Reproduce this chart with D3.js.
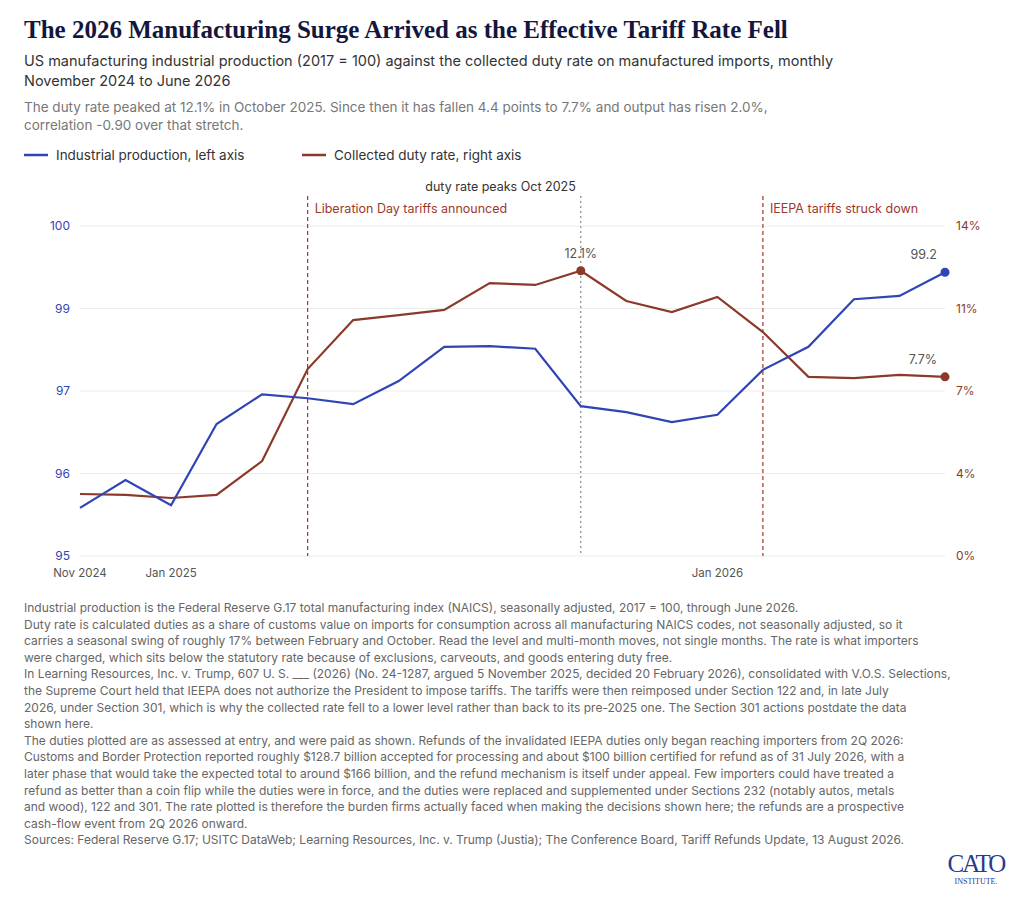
<!DOCTYPE html>
<html lang="en">
<head>
<meta charset="utf-8">
<title>Manufacturing surge and duty rate</title>
<script src="https://cdn.jsdelivr.net/npm/d3@7"></script>
<style>
  body { margin: 0; background: #fff; }
  text { font-family: Inter, "Noto Sans", sans-serif; }
</style>
</head>
<body>
<script>
// month labels, Nov 2024 .. Jun 2026
var months = ["Nov 2024","Dec 2024","Jan 2025","Feb 2025","Mar 2025","Apr 2025","May 2025","Jun 2025",
  "Jul 2025","Aug 2025","Sep 2025","Oct 2025","Nov 2025","Dec 2025","Jan 2026","Feb 2026",
  "Mar 2026","Apr 2026","May 2026","Jun 2026"];
var production = [95.73, 96.15, 95.77, 97.0, 97.45, 97.39, 97.30, 97.65, 98.17, 98.18, 98.14,
  97.27, 97.18, 97.03, 97.14, 97.82, 98.17, 98.89, 98.94, 99.3];
var dutyRate = [2.63, 2.59, 2.46, 2.59, 4.03, 7.93, 10.01, 10.22, 10.44, 11.58, 11.5, 12.1,
  10.82, 10.35, 10.99, 9.5, 7.6, 7.55, 7.68, 7.6];
var xTickLabels = [[0, "Nov 2024"], [2, "Jan 2025"], [14, "Jan 2026"]];
var leftTicks = [95, 96.25, 97.5, 98.75, 100];
var leftTickLabels = ["95", "96", "97", "99", "100"];
var rightTicks = [0, 3.5, 7, 10.5, 14];
var rightTickLabels = ["0%", "4%", "7%", "11%", "14%"];
var events = [
  {m: 5, label: "Liberation Day tariffs announced", color: "#a0392b", dash: "4,3", side: "right", y: 213},
  {m: 11, label: "duty rate peaks Oct 2025", color: "#888", dash: "2,3", side: "left", y: 191},
  {m: 15, label: "IEEPA tariffs struck down", color: "#a0392b", dash: "4,3", side: "right", y: 213}
];
var notes = [
  "Industrial production is the Federal Reserve G.17 total manufacturing index (NAICS), seasonally adjusted, 2017 = 100, through June 2026.",
  "Duty rate is calculated duties as a share of customs value on imports for consumption across all manufacturing NAICS codes, not seasonally adjusted, so it",
  "carries a seasonal swing of roughly 17% between February and October. Read the level and multi-month moves, not single months. The rate is what importers",
  "were charged, which sits below the statutory rate because of exclusions, carveouts, and goods entering duty free.",
  "In Learning Resources, Inc. v. Trump, 607 U. S. ___ (2026) (No. 24-1287, argued 5 November 2025, decided 20 February 2026), consolidated with V.O.S. Selections,",
  "the Supreme Court held that IEEPA does not authorize the President to impose tariffs. The tariffs were then reimposed under Section 122 and, in late July",
  "2026, under Section 301, which is why the collected rate fell to a lower level rather than back to its pre-2025 one. The Section 301 actions postdate the data",
  "shown here.",
  "The duties plotted are as assessed at entry, and were paid as shown. Refunds of the invalidated IEEPA duties only began reaching importers from 2Q 2026:",
  "Customs and Border Protection reported roughly $128.7 billion accepted for processing and about $100 billion certified for refund as of 31 July 2026, with a",
  "later phase that would take the expected total to around $166 billion, and the refund mechanism is itself under appeal. Few importers could have treated a",
  "refund as better than a coin flip while the duties were in force, and the duties were replaced and supplemented under Sections 232 (notably autos, metals",
  "and wood), 122 and 301. The rate plotted is therefore the burden firms actually faced when making the decisions shown here; the refunds are a prospective",
  "cash-flow event from 2Q 2026 onward.",
  "Sources: Federal Reserve G.17; USITC DataWeb; Learning Resources, Inc. v. Trump (Justia); The Conference Board, Tariff Refunds Update, 13 August 2026."
];

var W = 1030, H = 912;
var blue = "#2f45b5", brown = "#8b3a2a";
var svg = d3.select("body").append("svg").attr("width", W).attr("height", H);

svg.append("text").attr("x", 24).attr("y", 38)
  .style("font-family", "'Liberation Serif', 'DejaVu Serif', serif")
  .attr("font-size", 25).attr("font-weight", "bold").attr("fill", "#14163d")
  .text("The 2026 Manufacturing Surge Arrived as the Effective Tariff Rate Fell");
svg.append("text").attr("x", 24).attr("y", 66).attr("font-size", 14.5).attr("fill", "#333")
  .text("US manufacturing industrial production (2017 = 100) against the collected duty rate on manufactured imports, monthly");
svg.append("text").attr("x", 24).attr("y", 86).attr("font-size", 14.5).attr("fill", "#333")
  .text("November 2024 to June 2026");
svg.append("text").attr("x", 24).attr("y", 112).attr("font-size", 13.5).attr("fill", "#777")
  .text("The duty rate peaked at 12.1% in October 2025. Since then it has fallen 4.4 points to 7.7% and output has risen 2.0%,");
svg.append("text").attr("x", 24).attr("y", 130).attr("font-size", 13.5).attr("fill", "#777")
  .text("correlation -0.90 over that stretch.");

// legend
var legend = [{label: "Industrial production, left axis", color: blue, x: 24},
              {label: "Collected duty rate, right axis", color: brown, x: 302}];
legend.forEach(function(d) {
  svg.append("line").attr("x1", d.x).attr("x2", d.x + 24).attr("y1", 155).attr("y2", 155)
    .attr("stroke", d.color).attr("stroke-width", 2.5);
  svg.append("text").attr("x", d.x + 32).attr("y", 160).attr("font-size", 13.5).attr("fill", "#333").text(d.label);
});

var x = d3.scaleLinear().domain([0, months.length - 1]).range([80, 945]);
var yL = d3.scaleLinear().domain([95, 100]).range([556, 226]);
var yR = d3.scaleLinear().domain([0, 14]).range([556, 226]);

// gridlines + left labels
leftTicks.forEach(function(t, i) {
  svg.append("line").attr("x1", 80).attr("x2", 945).attr("y1", yL(t)).attr("y2", yL(t))
    .attr("stroke", "#ececec");
  svg.append("text").attr("x", 70).attr("y", yL(t) + 4).attr("text-anchor", "end")
    .attr("font-size", 12).attr("fill", "#2f45b5").text(leftTickLabels[i]);
});
rightTicks.forEach(function(t, i) {
  svg.append("text").attr("x", 956).attr("y", yR(t) + 4).attr("font-size", 12)
    .attr("fill", "#8b3a2a").text(rightTickLabels[i]);
});
xTickLabels.forEach(function(d) {
  svg.append("text").attr("x", x(d[0])).attr("y", 577).attr("text-anchor", "middle")
    .attr("font-size", 11.5).attr("fill", "#555").text(d[1]);
});

// event lines
events.forEach(function(e) {
  svg.append("line").attr("x1", x(e.m)).attr("x2", x(e.m)).attr("y1", 196).attr("y2", 556)
    .attr("stroke", e.color).attr("stroke-width", 1.2).attr("stroke-dasharray", e.dash);
  svg.append("text").attr("x", e.side === "left" ? x(e.m) - 5 : x(e.m) + 7).attr("y", e.y)
    .attr("text-anchor", e.side === "left" ? "end" : "start")
    .attr("font-size", 12.5).attr("fill", e.side === "left" ? "#333" : e.color).text(e.label);
});

var idx = d3.range(months.length);
svg.append("path").datum(idx)
  .attr("d", d3.line().x(function(i) { return x(i); }).y(function(i) { return yR(dutyRate[i]); }))
  .attr("fill", "none").attr("stroke", brown).attr("stroke-width", 2.2);
svg.append("path").datum(idx)
  .attr("d", d3.line().x(function(i) { return x(i); }).y(function(i) { return yL(production[i]); }))
  .attr("fill", "none").attr("stroke", blue).attr("stroke-width", 2.2);

// marked points
var last = months.length - 1, peak = dutyRate.indexOf(d3.max(dutyRate));
var marks = [
  {cx: x(peak), cy: yR(dutyRate[peak]), c: brown, t: "12.1%", dx: 0, anchor: "middle"},
  {cx: x(last), cy: yR(dutyRate[last]), c: brown, t: "7.7%", dx: -8, anchor: "end"},
  {cx: x(last), cy: yL(production[last]), c: blue, t: "99.2", dx: -8, anchor: "end"}
];
marks.forEach(function(m) {
  svg.append("circle").attr("cx", m.cx).attr("cy", m.cy).attr("r", 4.5).attr("fill", m.c);
  svg.append("text").attr("x", m.cx + m.dx).attr("y", m.cy - 13).attr("text-anchor", m.anchor)
    .attr("font-size", 12.5).attr("fill", "#555").text(m.t);
});

// notes
svg.append("g").selectAll("text").data(notes).enter().append("text")
  .attr("x", 24).attr("y", function(d, i) { return 612 + i * 16.6; })
  .attr("font-size", 12).attr("fill", "#666").text(function(d) { return d; });

// logo
svg.append("text").attr("x", 976).attr("y", 872).attr("text-anchor", "middle")
  .style("font-family", "'Liberation Serif', serif").attr("font-size", 25).attr("fill", "#2a3a8c")
  .attr("letter-spacing", -2).text("CATO");
svg.append("text").attr("x", 976).attr("y", 884).attr("text-anchor", "middle")
  .style("font-family", "'Liberation Serif', serif").attr("font-size", 8).attr("fill", "#2a3a8c")
  .text("INSTITUTE.");
</script>
</body>
</html>
